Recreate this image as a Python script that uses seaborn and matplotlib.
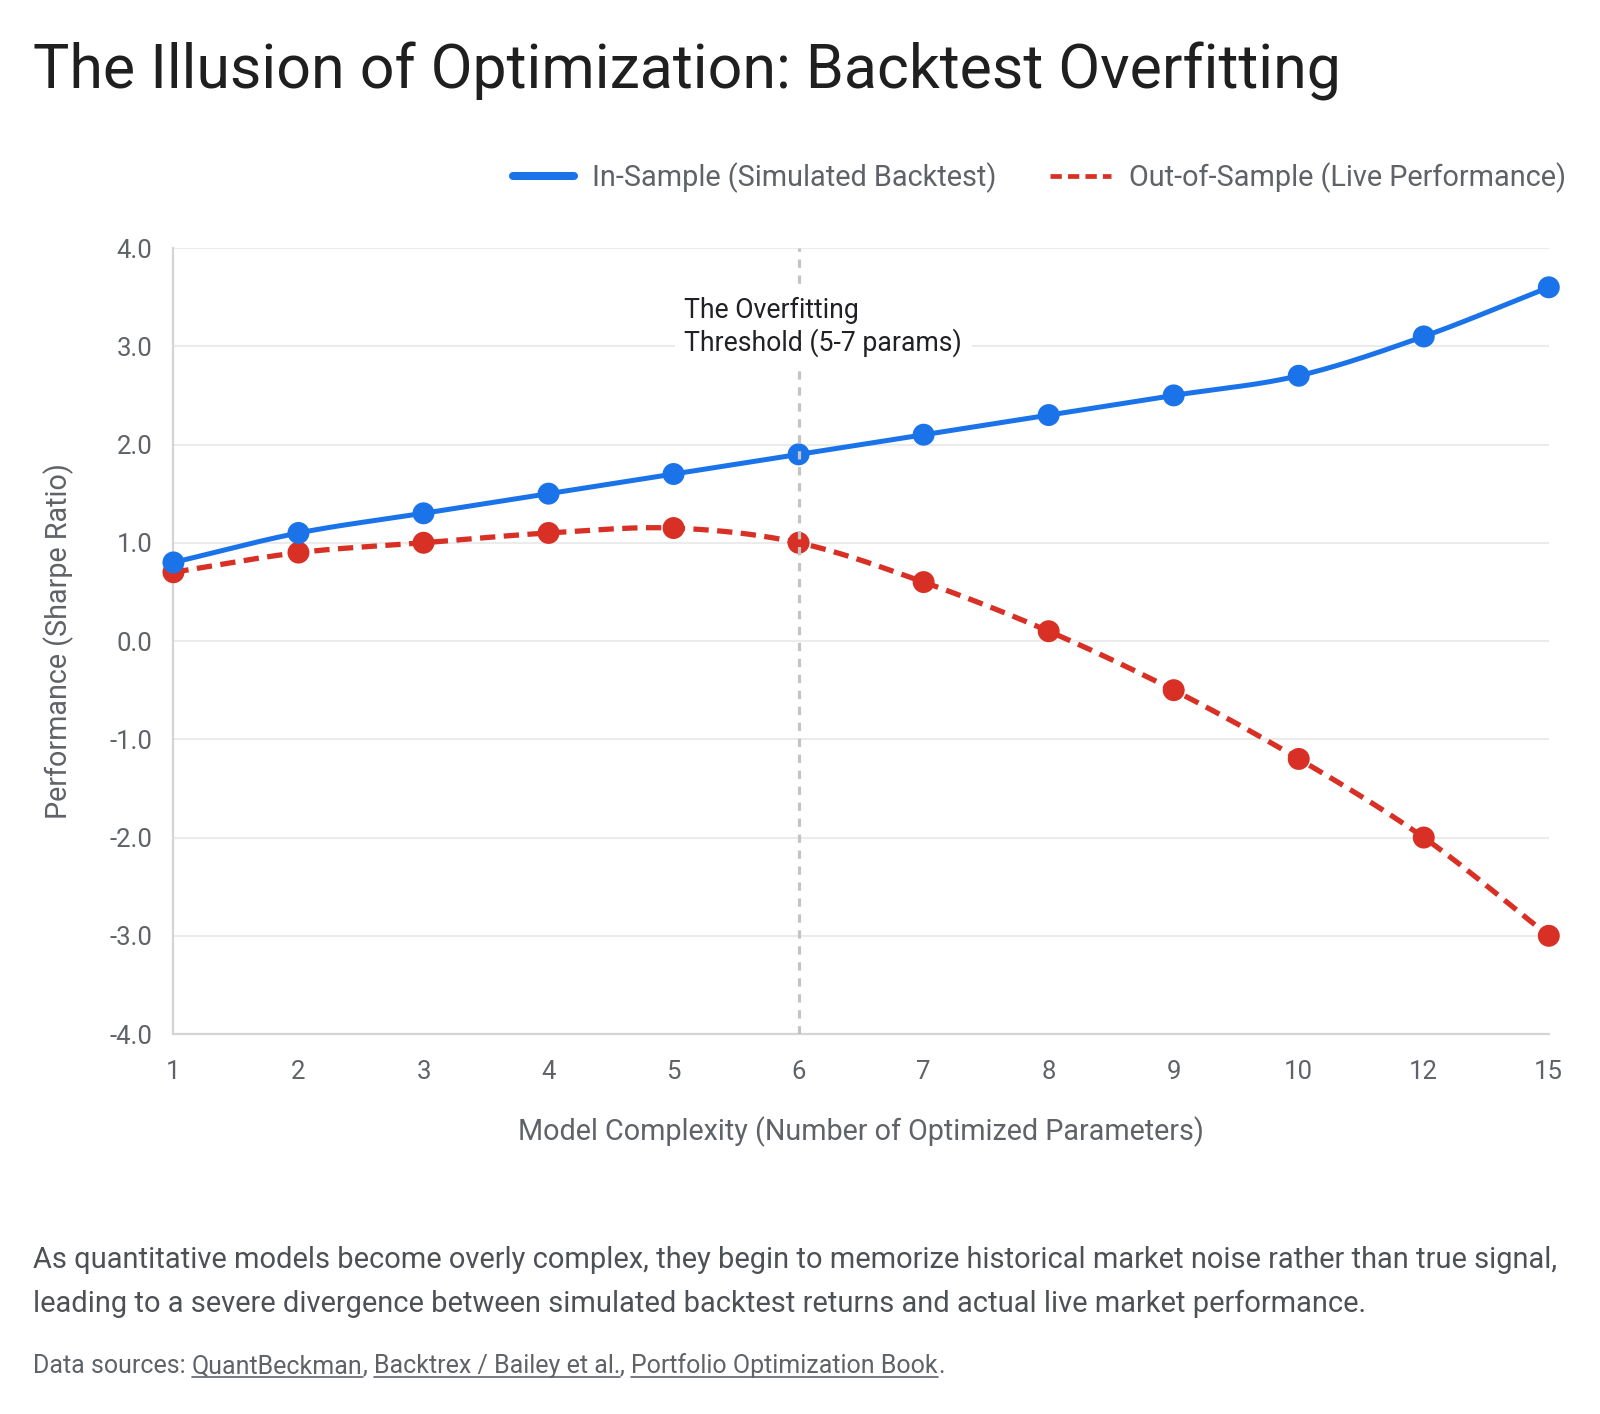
import numpy as np
import pandas as pd
import matplotlib
matplotlib.use("Agg")
import matplotlib.pyplot as plt
import seaborn as sns
from matplotlib.lines import Line2D

# data
complexity = ["1", "2", "3", "4", "5", "6", "7", "8", "9", "10", "12", "15"]
in_sample = [0.8, 1.1, 1.3, 1.5, 1.7, 1.9, 2.1, 2.3, 2.5, 2.7, 3.1, 3.6]
out_sample = [0.7, 0.9, 1.0, 1.1, 1.15, 1.0, 0.6, 0.1, -0.5, -1.2, -2.0, -3.0]
y_ticks = [-4.0, -3.0, -2.0, -1.0, 0.0, 1.0, 2.0, 3.0, 4.0]
threshold_at = "6"

BLUE = "#1a73e8"
RED = "#d93025"
GRID = "#ebebeb"
AXIS = "#d4d4d4"
TXT = "#5f6368"

sns.set_theme(style="white")
plt.rcParams["font.family"] = ["Roboto", "DejaVu Sans"]
plt.rcParams["axes.unicode_minus"] = False

df = pd.DataFrame({"pos": np.arange(len(complexity)), "label": complexity,
                   "in_sample": in_sample, "out_sample": out_sample})


def smooth(xs, ys, n=30):
    # hermite curve through the points, just for drawing the line shape
    xs = np.asarray(xs, float); ys = np.asarray(ys, float)
    m = np.zeros_like(ys)
    m[1:-1] = (ys[2:] - ys[:-2]) / 2
    m[0] = ys[1] - ys[0]; m[-1] = ys[-1] - ys[-2]
    px, py = [], []
    for i in range(len(xs) - 1):
        t = np.linspace(0, 1, n, endpoint=False)
        h00 = 2*t**3 - 3*t**2 + 1; h10 = t**3 - 2*t**2 + t
        h01 = -2*t**3 + 3*t**2; h11 = t**3 - t**2
        px.append(xs[i] + t)
        py.append(h00*ys[i] + h10*m[i] + h01*ys[i+1] + h11*m[i+1])
    px.append([xs[-1]]); py.append([ys[-1]])
    return pd.DataFrame({"x": np.concatenate(px), "y": np.concatenate(py)})


fig = plt.figure(figsize=(16, 14.14), dpi=100)
W, H = fig.get_size_inches() * fig.dpi
ax = fig.add_axes([0.1084, 0.2687, 0.968 - 0.1084, 0.8246 - 0.2687])

red_curve = smooth(df.pos, df.out_sample)
blue_curve = smooth(df.pos, df.in_sample)

sns.lineplot(data=red_curve, x="x", y="y", sort=False, ax=ax, color=RED, lw=3.8,
             dashes=False, zorder=3)
ax.lines[-1].set_dashes((2.9, 1.6))
ax.lines[-1].set_dash_capstyle("butt")
sns.scatterplot(data=df, x="pos", y="out_sample", ax=ax, color=RED, s=250,
                edgecolor="none", zorder=4, clip_on=False)
sns.lineplot(data=blue_curve, x="x", y="y", sort=False, ax=ax, color=BLUE, lw=3.6,
             zorder=5)
sns.scatterplot(data=df, x="pos", y="in_sample", ax=ax, color=BLUE, s=250,
                edgecolor="none", zorder=6, clip_on=False)

xv = complexity.index(threshold_at)
ax.axvline(xv, color="#c4c4c4", lw=2.3, dashes=(2.6, 2.4), zorder=7)
ax.text(xv - 0.915, 3.2, "The Overfitting\nThreshold (5-7 params)", fontsize=19.2,
        color="#202124", va="center", ha="left", linespacing=1.2, zorder=8,
        bbox=dict(facecolor="white", edgecolor="none", pad=7))

ax.set_xlim(0, len(complexity) - 1)
ax.set_ylim(-4, 4)
ax.set_xticks(df.pos)
ax.set_xticklabels(complexity)
ax.set_yticks(y_ticks)
ax.set_yticklabels([f"{v:.1f}" for v in y_ticks])
ax.yaxis.grid(True, color=GRID, lw=1.5)
ax.set_axisbelow(True)
for s in ["top", "right"]:
    ax.spines[s].set_visible(False)
for s in ["left", "bottom"]:
    ax.spines[s].set_color(AXIS)
    ax.spines[s].set_linewidth(1.6)
ax.tick_params(axis="y", length=11, width=1.5, color=GRID, labelsize=18.5,
               labelcolor=TXT, pad=4)
ax.tick_params(axis="x", length=0, labelsize=18.5, labelcolor=TXT, pad=19)
ax.set_xlabel("Model Complexity (Number of Optimized Parameters)", fontsize=20.7,
              color=TXT, labelpad=23)
ax.set_ylabel("Performance (Sharpe Ratio)", fontsize=20.7, color=TXT, labelpad=26)

handles = [Line2D([], [], color=BLUE, lw=5.8, solid_capstyle="round"),
           Line2D([], [], color=RED, lw=3.4, dashes=(2.4, 1.3))]
fig.legend(handles, ["In-Sample (Simulated Backtest)", "Out-of-Sample (Live Performance)"],
           loc="center right", bbox_to_anchor=(1566 / W, 1 - 178 / H), ncol=2,
           frameon=False, fontsize=20.8, labelcolor=TXT, handlelength=2.1,
           handletextpad=0.63, columnspacing=1.85, borderpad=0, borderaxespad=0)

fig.text(33 / W, 1 - 88.5 / H, "The Illusion of Optimization: Backtest Overfitting",
         fontsize=43.8, color="#1f1f1f", va="baseline", ha="left")

fig.text(33 / W, 1 - 1268 / H,
         "As quantitative models become overly complex, they begin to memorize historical market noise rather than true signal,",
         fontsize=20.9, color="#4d5156", va="baseline", ha="left")
fig.text(33 / W, 1 - 1312.5 / H,
         "leading to a severe divergence between simulated backtest returns and actual live market performance.",
         fontsize=20.9, color="#4d5156", va="baseline", ha="left")

# sources line with underlined links
pieces = [("Data sources: ", False), ("QuantBeckman", True), (", ", False),
          ("Backtrex / Bailey et al.", True), (", ", False),
          ("Portfolio Optimization Book", True), (".", False)]
renderer = fig.canvas.get_renderer()
x = 33 / W
y = 1 - 1373 / H
for txt, link in pieces:
    t = fig.text(x, y, txt, fontsize=18, color=TXT, va="baseline", ha="left")
    bb = t.get_window_extent(renderer)
    if link:
        fig.add_artist(Line2D([bb.x0 / W, bb.x1 / W], [y - 4 / H, y - 4 / H],
                              color=TXT, lw=1.2, transform=fig.transFigure))
    x = bb.x1 / W

fig.savefig("out.png", dpi=100, facecolor="white")
